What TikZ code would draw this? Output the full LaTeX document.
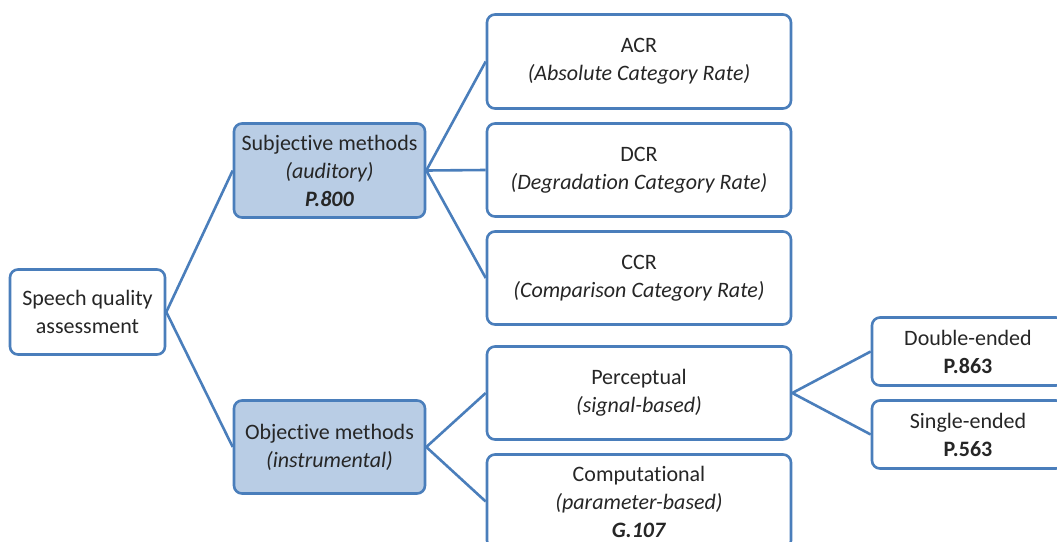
\documentclass[tikz,border=0pt]{standalone}
\usepackage{fontspec}
\setmainfont{Carlito}[Ligatures=NoCommon]
\definecolor{edge}{HTML}{4A7EBB}
\definecolor{pale}{HTML}{B9CDE5}
\definecolor{ink}{HTML}{262626}
\begin{document}
\begin{tikzpicture}[x=1pt,y=-1pt,
  box/.style={draw=edge, line width=2.6pt, rounded corners=8pt, fill=white,
    align=center, text=ink, inner sep=0pt,
    font=\fontsize{22}{28}\selectfont},
  keybox/.style={box, fill=pale},
  link/.style={draw=edge, line width=2.6pt}]
\clip (0,0) rectangle (1057,541);
\fill[white] (0,0) rectangle (1057,541);

% root
\node[box, minimum width=155pt, minimum height=85pt] (root) at (87.5,312)
  {Speech quality\\assessment};

% second level
\node[keybox, minimum width=191pt, minimum height=94pt] (subj) at (329.5,170.5)
  {Subjective methods\\\textit{(auditory)}\\\textbf{\textit{P.800}}};
\node[keybox, minimum width=191pt, minimum height=93pt] (obj) at (329.5,447)
  {Objective methods\\\textit{(instrumental)}};

% subjective methods
\node[box, minimum width=304pt, minimum height=94pt] (acr) at (639,61.5)
  {ACR\\\textit{(Absolute Category Rate)}};
\node[box, minimum width=304pt, minimum height=93pt] (dcr) at (639,170)
  {DCR\\\textit{(Degradation Category Rate)}};
\node[box, minimum width=304pt, minimum height=93pt] (ccr) at (639,278)
  {CCR\\\textit{(Comparison Category Rate)}};

% objective methods
\node[box, minimum width=304pt, minimum height=93pt] (perc) at (639,393)
  {Perceptual\\\textit{(signal-based)}};
\node[box, minimum width=304pt, minimum height=94pt] (comp) at (639,501.5)
  {Computational\\\textit{(parameter-based)}\\\textbf{\textit{G.107}}};

% perceptual models
\node[box, minimum width=192pt, minimum height=68pt] (dbl) at (968,351.5)
  {Double-ended\\\textbf{P.863}};
\node[box, minimum width=192pt, minimum height=68pt] (sgl) at (968,434.5)
  {Single-ended\\\textbf{P.563}};

% connectors
\draw[link] (root.east) -- (subj.west);
\draw[link] (root.east) -- (obj.west);
\draw[link] (subj.east) -- (acr.west);
\draw[link] (subj.east) -- (dcr.west);
\draw[link] (subj.east) -- (ccr.west);
\draw[link] (obj.east) -- (perc.west);
\draw[link] (obj.east) -- (comp.west);
\draw[link] (perc.east) -- (dbl.west);
\draw[link] (perc.east) -- (sgl.west);
\end{tikzpicture}
\end{document}
